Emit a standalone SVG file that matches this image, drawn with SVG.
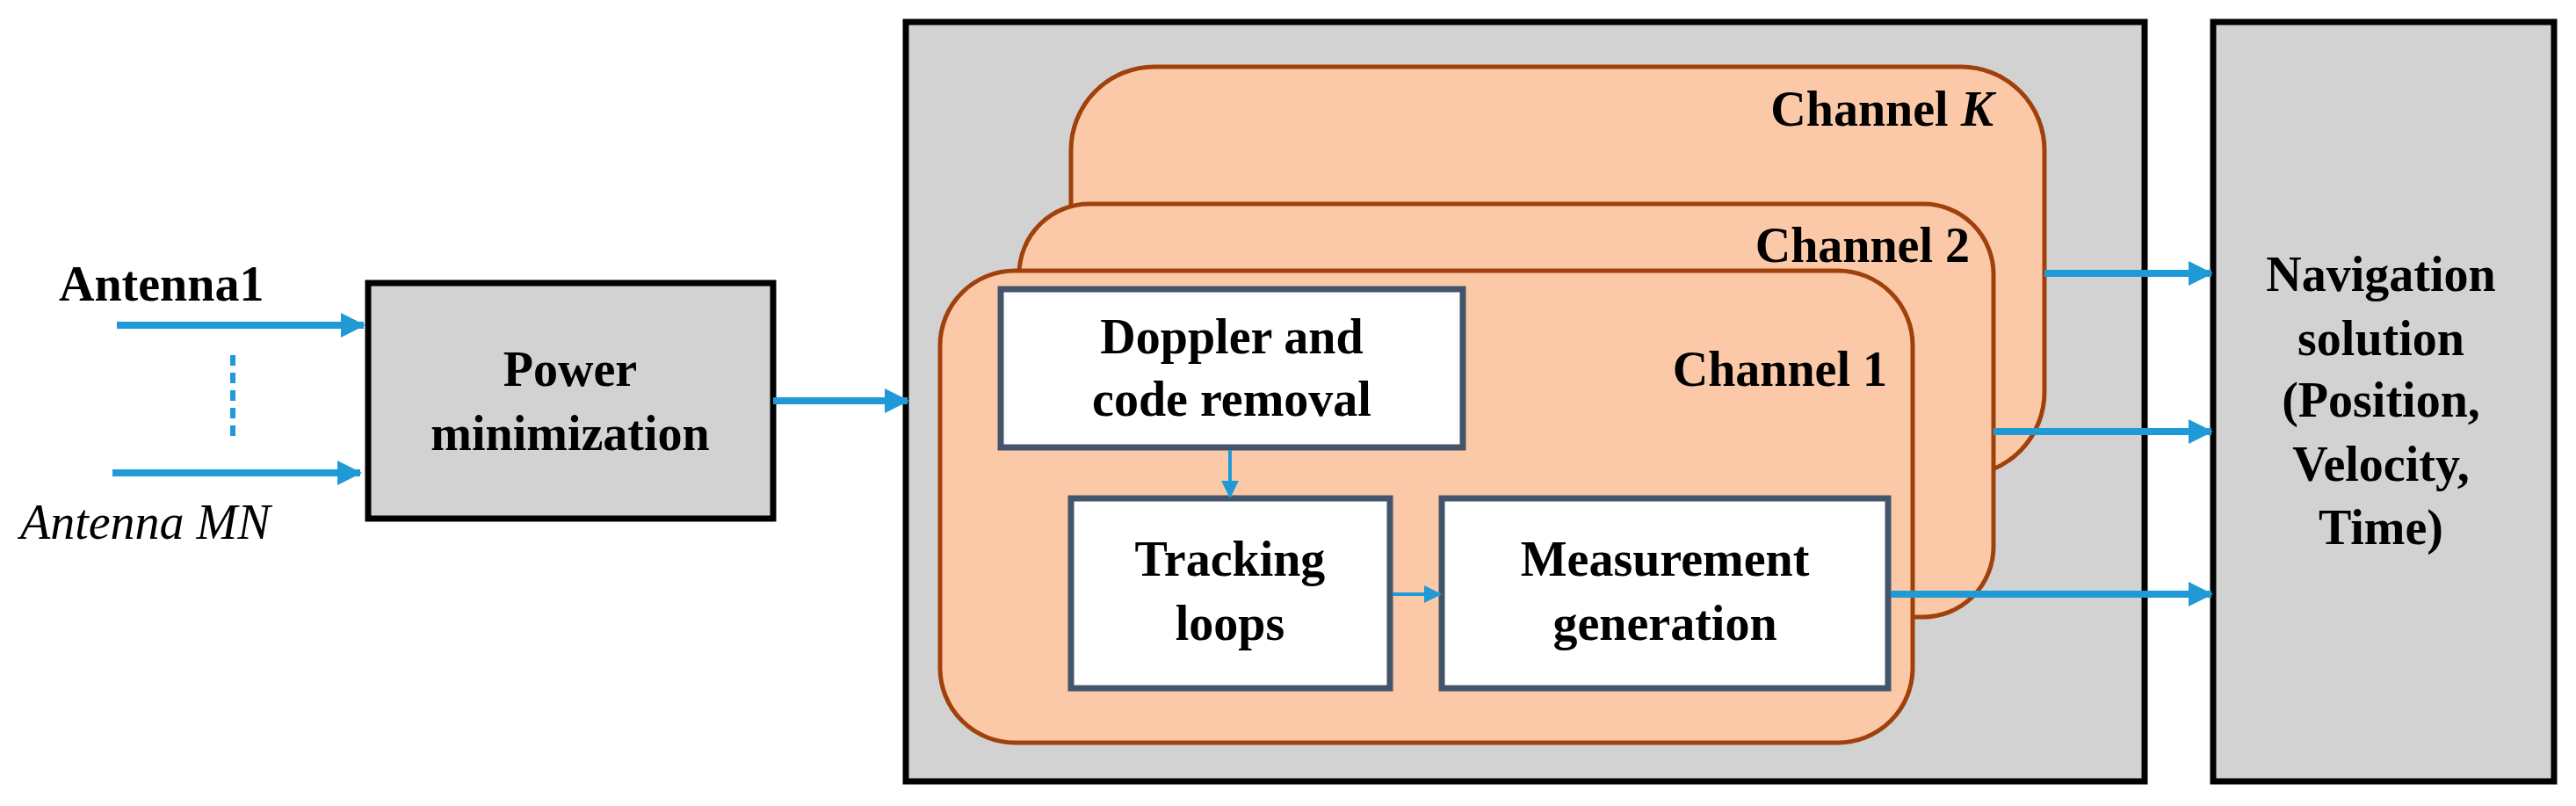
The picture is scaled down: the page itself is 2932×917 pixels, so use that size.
<svg xmlns="http://www.w3.org/2000/svg" width="2932" height="917" viewBox="0 0 2932 917">
<style>
.t{font-family:"Liberation Serif",serif;font-weight:bold;font-size:56px;fill:#000}
.c{text-anchor:middle}
.r{text-anchor:end}
.gray{fill:#d3d2d2;stroke:#000;stroke-width:7}
.ch{fill:#fcc9a8;stroke:#a0410c;stroke-width:5}
.wb{fill:#fff;stroke:#44546a;stroke-width:7}
.a{stroke:#1f9ad6;stroke-width:8;fill:none;marker-end:url(#h)}
.s{stroke:#1f9ad6;stroke-width:4;fill:none;marker-end:url(#hs)}
</style>
<defs>
<marker id="h" markerUnits="userSpaceOnUse" markerWidth="30" markerHeight="30" refX="26" refY="14" orient="auto"><path d="M0,0 L28,14 L0,28 Z" fill="#1f9ad6"/></marker>
<marker id="hs" markerUnits="userSpaceOnUse" markerWidth="24" markerHeight="24" refX="18" refY="10" orient="auto"><path d="M0,0 L20,10 L0,20 Z" fill="#1f9ad6"/></marker>
</defs>
<rect width="2932" height="917" fill="#fff"/>
<g id="antenna-labels">
<text class="t" x="67" y="342">Antenna1</text>
<text class="t" x="23" y="613" font-style="italic" style="font-weight:normal">Antenna MN</text>
</g>
<g id="power"><rect class="gray" x="419" y="322" width="461" height="268"/>
<text class="t c" x="649" y="439">Power</text><text class="t c" x="649" y="512">minimization</text></g>
<g id="receiver"><rect class="gray" x="1031" y="25" width="1410" height="864"/></g>
<g id="navigation"><rect class="gray" x="2519" y="25" width="388" height="864"/>
<text class="t c" x="2710" y="331">Navigation</text><text class="t c" x="2710" y="404">solution</text><text class="t c" x="2710" y="474">(Position,</text><text class="t c" x="2710" y="547">Velocity,</text><text class="t c" x="2710" y="619">Time)</text></g>
<g id="channelK"><rect class="ch" x="1219" y="76" width="1108" height="465" rx="95"/><text class="t r" x="2269" y="143">Channel <tspan font-style="italic">K</tspan></text></g>
<g id="channel2"><rect class="ch" x="1160" y="232" width="1109" height="470" rx="80"/><text class="t r" x="2242" y="298">Channel 2</text></g>
<g id="channel1"><rect class="ch" x="1070" y="308" width="1107" height="537" rx="85"/><text class="t r" x="2148" y="439">Channel 1</text></g>
<g id="doppler"><rect class="wb" x="1139" y="329" width="526" height="180"/><text class="t c" x="1402" y="402">Doppler and</text><text class="t c" x="1402" y="473">code removal</text></g>
<g id="tracking"><rect class="wb" x="1219" y="567" width="363" height="216"/><text class="t c" x="1400" y="655">Tracking</text><text class="t c" x="1400" y="728">loops</text></g>
<g id="measurement"><rect class="wb" x="1641" y="567" width="508" height="216"/><text class="t c" x="1895" y="655">Measurement</text><text class="t c" x="1895" y="728">generation</text></g>
<g id="connectors">
<line class="a" x1="133" y1="370" x2="414" y2="370"/>
<line class="a" x1="128" y1="538" x2="410" y2="538"/>
<line x1="265" y1="404" x2="265" y2="502" stroke="#1f9ad6" stroke-width="6" stroke-dasharray="12,8"/>
<line class="a" x1="880" y1="456" x2="1033" y2="456"/>
<line class="s" x1="1400" y1="512" x2="1400" y2="565"/>
<line class="s" x1="1585" y1="676" x2="1639" y2="676"/>
<line class="a" x1="2327" y1="311" x2="2517" y2="311"/>
<line class="a" x1="2269" y1="491" x2="2517" y2="491"/>
<line class="a" x1="2152" y1="676" x2="2517" y2="676"/>
</g>
</svg>
